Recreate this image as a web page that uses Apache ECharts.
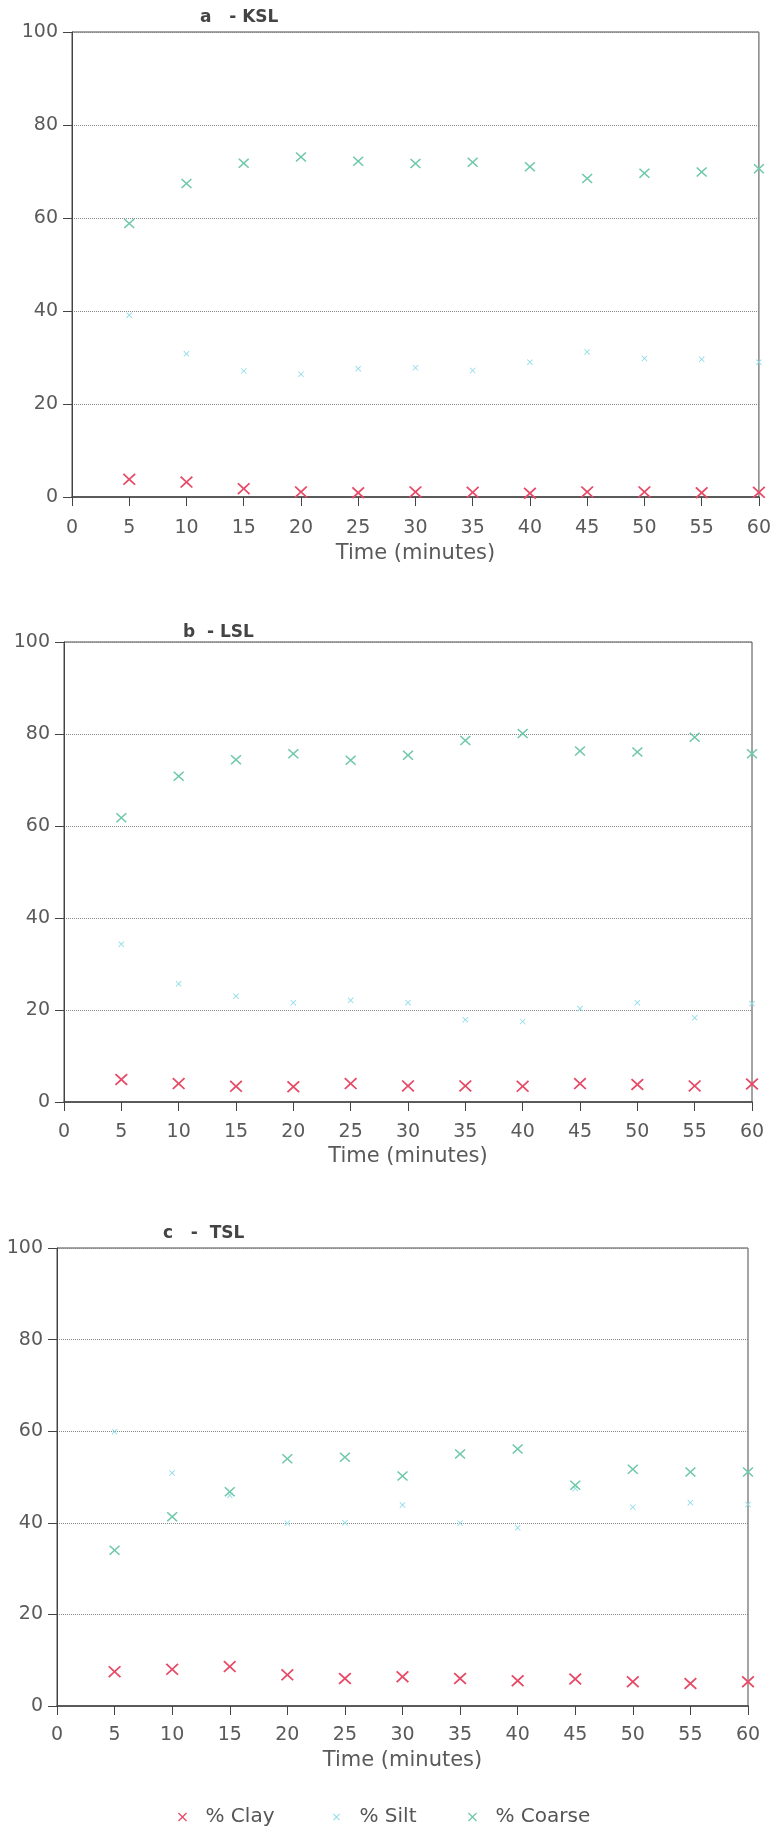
<!DOCTYPE html>
<html>
<head>
<meta charset="utf-8">
<script src="https://cdn.jsdelivr.net/npm/echarts@6/dist/echarts.min.js"></script>
<style>
html,body{margin:0;padding:0;background:#fff;}
#chart{width:774px;height:1831px;}
</style>
</head>
<body>
<div id="chart"></div>
<script>
// ---- data ----
const time = [5, 10, 15, 20, 25, 30, 35, 40, 45, 50, 55, 60];
const xTicks = [0, 5, 10, 15, 20, 25, 30, 35, 40, 45, 50, 55, 60];
const yTicks = [0, 20, 40, 60, 80, 100];
const panelTitles = ['a   - KSL', 'b  - LSL', 'c   -  TSL'];
const seriesNames = ['% Clay', '% Silt', '% Coarse'];

const aClay   = [3.8, 3.2, 1.8, 1.1, 0.9, 1.1, 1.0, 0.8, 1.1, 1.1, 0.9, 1.0];
const aSilt   = [39.1, 30.8, 27.1, 26.4, 27.6, 27.8, 27.2, 29.0, 31.2, 29.8, 29.6, 29.0];
const aCoarse = [58.8, 67.4, 71.8, 73.1, 72.2, 71.7, 72.0, 71.0, 68.5, 69.6, 69.9, 70.6];

const bClay   = [4.9, 4.0, 3.4, 3.3, 4.0, 3.5, 3.5, 3.4, 4.0, 3.8, 3.5, 3.9];
const bSilt   = [34.3, 25.7, 23.0, 21.6, 22.1, 21.6, 17.9, 17.5, 20.3, 21.6, 18.3, 21.4];
const bCoarse = [61.8, 70.8, 74.4, 75.7, 74.3, 75.4, 78.6, 80.1, 76.3, 76.1, 79.3, 75.7];

const cClay   = [7.5, 8.0, 8.6, 6.8, 6.0, 6.4, 6.0, 5.5, 5.9, 5.3, 4.9, 5.3];
const cSilt   = [59.9, 50.9, 46.0, 39.9, 40.0, 43.9, 39.9, 38.9, 47.5, 43.4, 44.4, 44.0];
const cCoarse = [34.0, 41.3, 46.8, 54.0, 54.3, 50.2, 55.0, 56.1, 48.2, 51.7, 51.1, 51.1];

// ---- styling ----
const X_PATH = 'path://M1,0 L5,4 L9,0 L10,1 L6,5 L10,9 L9,10 L5,6 L1,10 L0,9 L4,5 L0,1 Z';
const colors = ['#e64a66', '#8fdbe8', '#6fc8a8'];
const sizes = [[13, 12], [6, 6], [11, 10]];
const FONT = 'DejaVu Sans';
const TXT = '#5a5a5a';

const panels = [
  {clay: aClay, silt: aSilt, coarse: aCoarse, left: 72, right: 10, top: 32, height: 465,
   titleLeft: 195, titleTop: 4, labelMargin: 22, nameGap: 46},
  {clay: bClay, silt: bSilt, coarse: bCoarse, left: 64, right: 22, top: 642, height: 460,
   titleLeft: 178, titleTop: 619, labelMargin: 21, nameGap: 44},
  {clay: cClay, silt: cSilt, coarse: cCoarse, left: 57, right: 26, top: 1248, height: 458,
   titleLeft: 158, titleTop: 1220, labelMargin: 20, nameGap: 44}
];

const grids = [], xAxes = [], yAxes = [], series = [], titles = [];
panels.forEach((p, i) => {
  grids.push({left: p.left, right: p.right, top: p.top, height: p.height,
    show: true, borderColor: '#4a4a4a', borderWidth: 1, backgroundColor: 'transparent'});
  titles.push({text: panelTitles[i], left: p.titleLeft, top: p.titleTop,
    textStyle: {fontFamily: FONT, fontSize: 17, fontWeight: 'bold', color: '#444'}});
  xAxes.push({
    type: 'value', gridIndex: i, min: xTicks[0], max: xTicks[xTicks.length - 1], interval: 5,
    name: 'Time (minutes)', nameLocation: 'middle', nameGap: p.nameGap,
    nameTextStyle: {fontFamily: FONT, fontSize: 21, color: TXT},
    axisLine: {show: true, lineStyle: {color: '#444', width: 1.5}},
    axisTick: {show: true, inside: false, length: 9, lineStyle: {color: '#444'}},
    axisLabel: {fontFamily: FONT, fontSize: 19, color: TXT, margin: p.labelMargin},
    splitLine: {show: false}
  });
  yAxes.push({
    type: 'value', gridIndex: i, min: yTicks[0], max: yTicks[yTicks.length - 1], interval: 20,
    axisLine: {show: true, lineStyle: {color: '#444', width: 1}},
    axisTick: {show: true, inside: false, length: 9, lineStyle: {color: '#444'}},
    axisLabel: {fontFamily: FONT, fontSize: 19, color: TXT, margin: 14},
    splitLine: {show: true, lineStyle: {type: 'dotted', color: '#888', width: 1}}
  });
  const vals = [p.clay, p.silt, p.coarse];
  vals.forEach((arr, k) => {
    series.push({
      name: seriesNames[k], type: 'scatter', xAxisIndex: i, yAxisIndex: i,
      symbol: X_PATH, symbolSize: sizes[k], clip: false,
      itemStyle: {color: colors[k], opacity: 1},
      data: time.map((t, j) => [t, arr[j]])
    });
  });
});

const legendLefts = [173, 328, 463];
const legends = seriesNames.map((n, k) => ({
  data: [{name: n, icon: X_PATH, itemStyle: {color: colors[k]}}],
  left: legendLefts[k], top: 1802, itemWidth: 36, itemHeight: k === 1 ? 7 : 9,
  textStyle: {fontFamily: FONT, fontSize: 20, color: '#555'},
  selectedMode: false
}));

const chart = echarts.init(document.getElementById('chart'), null, {renderer: 'canvas'});
chart.setOption({
  animation: false,
  backgroundColor: '#fff',
  title: titles,
  grid: grids,
  xAxis: xAxes,
  yAxis: yAxes,
  legend: legends,
  series: series
});
</script>
</body>
</html>
